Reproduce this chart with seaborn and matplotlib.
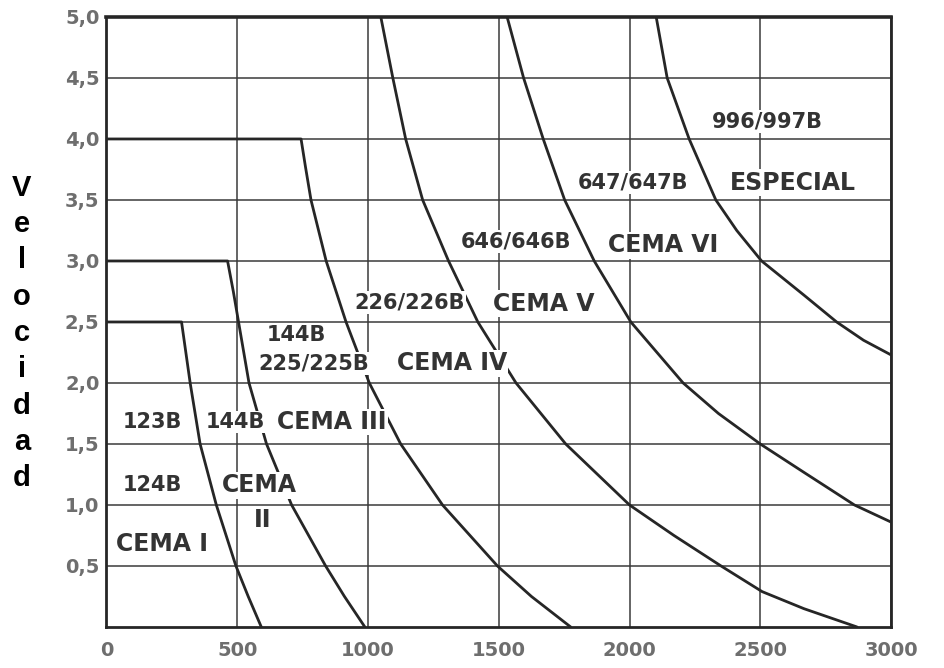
import matplotlib
matplotlib.use("Agg")
import matplotlib.pyplot as plt
import seaborn as sns
import pandas as pd

# curves (capacidad vs velocidad)
cema1_x = [0, 287, 320, 358, 420, 495, 542, 592]
cema1_y = [2.5, 2.5, 2.0, 1.5, 1.0, 0.5, 0.25, 0.0]

cema2_x = [0, 463, 485, 505, 525, 545, 612, 708, 838, 910, 988]
cema2_y = [3.0, 3.0, 2.75, 2.5, 2.25, 2.0, 1.5, 1.0, 0.5, 0.25, 0.0]

cema3_x = [0, 744, 761, 782, 840, 916, 1005, 1125, 1285, 1495, 1625, 1775]
cema3_y = [4.0, 4.0, 3.77, 3.5, 3.0, 2.5, 2.0, 1.5, 1.0, 0.5, 0.25, 0.0]

cema4_x = [1049, 1095, 1144, 1209, 1308, 1420, 1566, 1756, 2000, 2170, 2350,
           2507, 2667, 2870]
cema4_y = [5.0, 4.5, 4.0, 3.5, 3.0, 2.5, 2.0, 1.5, 1.0, 0.75, 0.5,
           0.29, 0.15, 0.0]

cema5_x = [1532, 1595, 1670, 1752, 1865, 2005, 2205, 2340, 2500, 2665, 2860, 3000]
cema5_y = [5.0, 4.5, 4.0, 3.5, 3.0, 2.5, 2.0, 1.75, 1.5, 1.27, 1.0, 0.86]

esp_x = [2102, 2144, 2228, 2330, 2410, 2505, 2667, 2792, 2895, 3000]
esp_y = [5.0, 4.5, 4.0, 3.5, 3.25, 3.0, 2.72, 2.5, 2.35, 2.23]

# labels written inside the chart
labels = ["996/997B", "647/647B", "ESPECIAL", "646/646B", "CEMA VI",
          "226/226B", "CEMA V", "144B", "225/225B", "CEMA IV",
          "123B", "144B", "CEMA III", "124B", "CEMA", "II", "CEMA I"]
label_x = [2527, 2012, 2625, 1566, 2130, 1159, 1673, 725, 794, 1320,
           174, 493, 863, 174, 584, 596, 211]
label_y = [4.14, 3.64, 3.64, 3.16, 3.13, 2.66, 2.65, 2.39, 2.16, 2.16,
           1.68, 1.68, 1.68, 1.16, 1.16, 0.88, 0.68]

x_ticks = [0, 500, 1000, 1500, 2000, 2500, 3000]
y_ticks = [0.5, 1.0, 1.5, 2.0, 2.5, 3.0, 3.5, 4.0, 4.5, 5.0]
y_ticklabels = ["0,5", "1,0", "1,5", "2,0", "2,5", "3,0", "3,5", "4,0", "4,5", "5,0"]

sns.set_style("white")
plt.rcParams['font.family'] = ['DejaVu Sans']

fig = plt.figure(figsize=(9.44, 6.68), dpi=100)
ax = fig.add_axes([0.1128, 0.0614, 0.8311, 0.9132])

curves = [(cema1_x, cema1_y), (cema2_x, cema2_y), (cema3_x, cema3_y),
          (cema4_x, cema4_y), (cema5_x, cema5_y), (esp_x, esp_y)]
for cx, cy in curves:
    df = pd.DataFrame({"x": cx, "y": cy})
    sns.lineplot(data=df, x="x", y="y", ax=ax, sort=False, estimator=None,
                 color="#262626", linewidth=2.0, zorder=3)

ax.set_xlim(0, 3000)
ax.set_ylim(0, 5.0)
ax.set_xticks(x_ticks)
ax.set_xticklabels([str(t) for t in x_ticks])
ax.set_yticks(y_ticks)
ax.set_yticklabels(y_ticklabels)
ax.tick_params(axis="x", length=0, pad=10, labelsize=14, labelcolor="#6e6e6e")
ax.tick_params(axis="y", length=0, pad=5, labelsize=14, labelcolor="#6e6e6e")
for lab in ax.get_xticklabels() + ax.get_yticklabels():
    lab.set_fontweight("bold")

ax.grid(True, color="#3a3a3a", linewidth=1.1)
ax.set_axisbelow(True)
for side in ax.spines.values():
    side.set_color("#262626")
    side.set_linewidth(2.0)
ax.spines["top"].set_linewidth(2.6)

for txt, tx, ty in zip(labels, label_x, label_y):
    size = 17 if txt.startswith("CEMA") or txt in ("ESPECIAL", "II") else 15
    ax.text(tx, ty, txt, ha="center", va="center", fontsize=size,
            fontweight="bold", color="#333333", zorder=5,
            bbox=dict(facecolor="white", edgecolor="none", pad=1.0))

ax.set_xlabel("")
ax.set_ylabel("\n".join("Velocidad"), rotation=0, fontsize=21,
              fontweight="bold", family="Liberation Sans", color="black",
              linespacing=1.38, va="center", ha="center")
ax.yaxis.set_label_coords(-0.108, 0.482)

fig.savefig("out.png", dpi=100, facecolor="white")
